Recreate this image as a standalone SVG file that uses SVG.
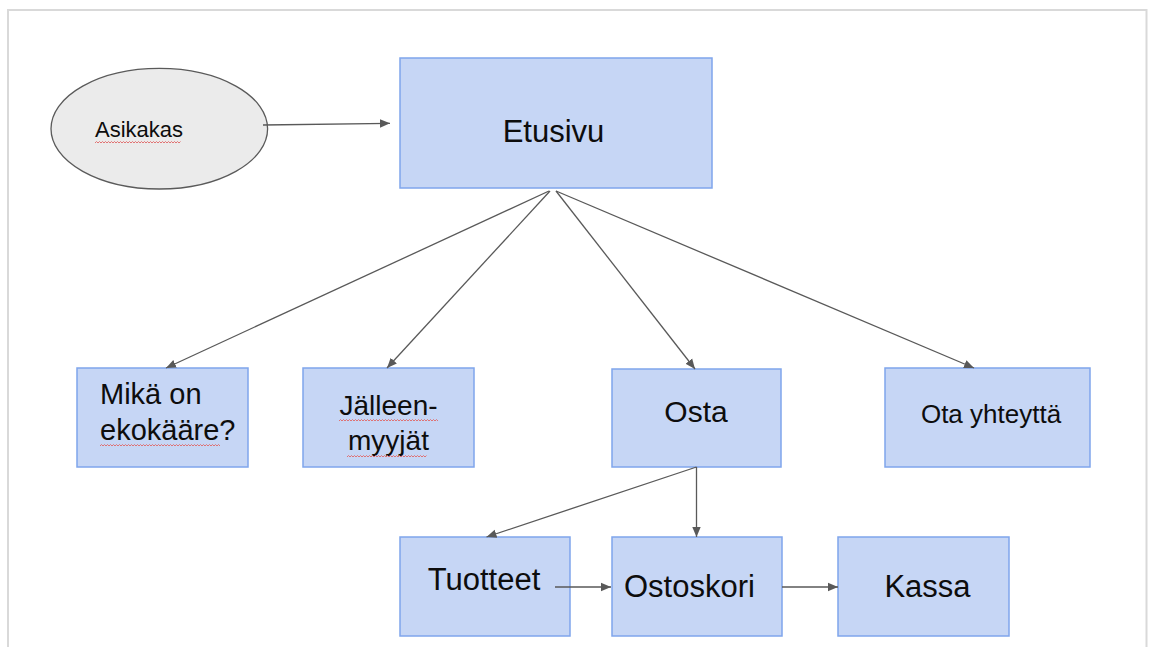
<svg xmlns="http://www.w3.org/2000/svg" width="1149" height="647" viewBox="0 0 1149 647">
  <style>
    .box { fill: #c6d6f5; stroke: #7fa5ec; stroke-width: 1.5; }
    .ell { fill: #ebebeb; stroke: #5a5a5a; stroke-width: 1.3; }
    .lbl { font-family: "Liberation Sans", Arial, sans-serif; fill: #0d0d0d; }
    .edge { stroke: #595959; stroke-width: 1.3; fill: none; marker-end: url(#arrow); }
    .sq { stroke: #e06666; stroke-width: 0.9; fill: none; }
  </style>
  <defs>
    <marker id="arrow" viewBox="0 0 10 10" refX="10" refY="5" markerWidth="10" markerHeight="10" markerUnits="userSpaceOnUse" orient="auto">
      <path d="M0,0.8 L10,5 L0,9.2 Z" fill="#595959"/>
    </marker>
  </defs>
  <rect width="1149" height="647" fill="#ffffff"/>
  <path d="M8,650 V10 H1146.5 V650" fill="none" stroke="#d9d9d9" stroke-width="2"/>

  <g id="asikakas">
    <ellipse class="ell" cx="159.3" cy="128.7" rx="108.3" ry="60.3"/>
    <text class="lbl" x="95" y="136.7" font-size="22">Asikakas</text>
    <path class="sq" d="M95,143 l1.5,-1.5 l1.5,1.5 l1.5,-1.5 l1.5,1.5 l1.5,-1.5 l1.5,1.5 l1.5,-1.5 l1.5,1.5 l1.5,-1.5 l1.5,1.5 l1.5,-1.5 l1.5,1.5 l1.5,-1.5 l1.5,1.5 l1.5,-1.5 l1.5,1.5 l1.5,-1.5 l1.5,1.5 l1.5,-1.5 l1.5,1.5 l1.5,-1.5 l1.5,1.5 l1.5,-1.5 l1.5,1.5 l1.5,-1.5 l1.5,1.5 l1.5,-1.5 l1.5,1.5 l1.5,-1.5 l1.5,1.5 l1.5,-1.5 l1.5,1.5 l1.5,-1.5 l1.5,1.5 l1.5,-1.5 l1.5,1.5 l1.5,-1.5 l1.5,1.5 l1.5,-1.5 l1.5,1.5 l1.5,-1.5 l1.5,1.5 l1.5,-1.5 l1.5,1.5 l1.5,-1.5 l1.5,1.5 l1.5,-1.5 l1.5,1.5 l1.5,-1.5 l1.5,1.5 l1.5,-1.5 l1.5,1.5 l1.5,-1.5 l1.5,1.5 l1.5,-1.5 l1.5,1.5 l1.5,-1.5"/>
  </g>

  <g id="etusivu">
    <rect class="box" x="400" y="58" width="312" height="130"/>
    <text class="lbl" x="553.5" y="142" font-size="31" text-anchor="middle">Etusivu</text>
  </g>

  <g id="mika-on-ekokaare">
    <rect class="box" x="77" y="368" width="171" height="99"/>
    <text class="lbl" x="100" y="404" font-size="29">Mikä on</text>
    <text class="lbl" x="100" y="440" font-size="29">ekokääre?</text>
    <path class="sq" d="M100,446 l1.5,-1.5 l1.5,1.5 l1.5,-1.5 l1.5,1.5 l1.5,-1.5 l1.5,1.5 l1.5,-1.5 l1.5,1.5 l1.5,-1.5 l1.5,1.5 l1.5,-1.5 l1.5,1.5 l1.5,-1.5 l1.5,1.5 l1.5,-1.5 l1.5,1.5 l1.5,-1.5 l1.5,1.5 l1.5,-1.5 l1.5,1.5 l1.5,-1.5 l1.5,1.5 l1.5,-1.5 l1.5,1.5 l1.5,-1.5 l1.5,1.5 l1.5,-1.5 l1.5,1.5 l1.5,-1.5 l1.5,1.5 l1.5,-1.5 l1.5,1.5 l1.5,-1.5 l1.5,1.5 l1.5,-1.5 l1.5,1.5 l1.5,-1.5 l1.5,1.5 l1.5,-1.5 l1.5,1.5 l1.5,-1.5 l1.5,1.5 l1.5,-1.5 l1.5,1.5 l1.5,-1.5 l1.5,1.5 l1.5,-1.5 l1.5,1.5 l1.5,-1.5 l1.5,1.5 l1.5,-1.5 l1.5,1.5 l1.5,-1.5 l1.5,1.5 l1.5,-1.5 l1.5,1.5 l1.5,-1.5 l1.5,1.5 l1.5,-1.5 l1.5,1.5 l1.5,-1.5 l1.5,1.5 l1.5,-1.5 l1.5,1.5 l1.5,-1.5 l1.5,1.5 l1.5,-1.5 l1.5,1.5 l1.5,-1.5 l1.5,1.5 l1.5,-1.5 l1.5,1.5 l1.5,-1.5 l1.5,1.5 l1.5,-1.5 l1.5,1.5 l1.5,-1.5 l1.5,1.5 l1.5,-1.5 l1.5,1.5"/>
  </g>

  <g id="jalleenmyyjat">
    <rect class="box" x="303" y="368" width="171" height="99"/>
    <text class="lbl" x="388.5" y="415" font-size="28" text-anchor="middle">Jälleen-</text>
    <text class="lbl" x="388.5" y="450" font-size="28" text-anchor="middle">myyjät</text>
    <path class="sq" d="M339,421 l1.5,-1.5 l1.5,1.5 l1.5,-1.5 l1.5,1.5 l1.5,-1.5 l1.5,1.5 l1.5,-1.5 l1.5,1.5 l1.5,-1.5 l1.5,1.5 l1.5,-1.5 l1.5,1.5 l1.5,-1.5 l1.5,1.5 l1.5,-1.5 l1.5,1.5 l1.5,-1.5 l1.5,1.5 l1.5,-1.5 l1.5,1.5 l1.5,-1.5 l1.5,1.5 l1.5,-1.5 l1.5,1.5 l1.5,-1.5 l1.5,1.5 l1.5,-1.5 l1.5,1.5 l1.5,-1.5 l1.5,1.5 l1.5,-1.5 l1.5,1.5 l1.5,-1.5 l1.5,1.5 l1.5,-1.5 l1.5,1.5 l1.5,-1.5 l1.5,1.5 l1.5,-1.5 l1.5,1.5 l1.5,-1.5 l1.5,1.5 l1.5,-1.5 l1.5,1.5 l1.5,-1.5 l1.5,1.5 l1.5,-1.5 l1.5,1.5 l1.5,-1.5 l1.5,1.5 l1.5,-1.5 l1.5,1.5 l1.5,-1.5 l1.5,1.5 l1.5,-1.5 l1.5,1.5 l1.5,-1.5 l1.5,1.5 l1.5,-1.5 l1.5,1.5 l1.5,-1.5 l1.5,1.5 l1.5,-1.5 l1.5,1.5 l1.5,-1.5 l1.5,1.5"/>
    <path class="sq" d="M347,457 l1.5,-1.5 l1.5,1.5 l1.5,-1.5 l1.5,1.5 l1.5,-1.5 l1.5,1.5 l1.5,-1.5 l1.5,1.5 l1.5,-1.5 l1.5,1.5 l1.5,-1.5 l1.5,1.5 l1.5,-1.5 l1.5,1.5 l1.5,-1.5 l1.5,1.5 l1.5,-1.5 l1.5,1.5 l1.5,-1.5 l1.5,1.5 l1.5,-1.5 l1.5,1.5 l1.5,-1.5 l1.5,1.5 l1.5,-1.5 l1.5,1.5 l1.5,-1.5 l1.5,1.5 l1.5,-1.5 l1.5,1.5 l1.5,-1.5 l1.5,1.5 l1.5,-1.5 l1.5,1.5 l1.5,-1.5 l1.5,1.5 l1.5,-1.5 l1.5,1.5 l1.5,-1.5 l1.5,1.5 l1.5,-1.5 l1.5,1.5 l1.5,-1.5 l1.5,1.5 l1.5,-1.5 l1.5,1.5 l1.5,-1.5 l1.5,1.5 l1.5,-1.5 l1.5,1.5 l1.5,-1.5 l1.5,1.5 l1.5,-1.5"/>
  </g>

  <g id="osta">
    <rect class="box" x="612" y="369" width="169" height="98"/>
    <text class="lbl" x="696" y="421.5" font-size="30" text-anchor="middle">Osta</text>
  </g>

  <g id="ota-yhteytta">
    <rect class="box" x="885" y="368" width="205" height="99"/>
    <text class="lbl" x="991" y="422.5" font-size="26" text-anchor="middle">Ota yhteyttä</text>
  </g>

  <g id="tuotteet">
    <rect class="box" x="400" y="537" width="170" height="99"/>
    <text class="lbl" x="484" y="590" font-size="31" text-anchor="middle">Tuotteet</text>
  </g>

  <g id="ostoskori">
    <rect class="box" x="612" y="537" width="170" height="99"/>
    <text class="lbl" x="624" y="597" font-size="31">Ostoskori</text>
  </g>

  <g id="kassa">
    <rect class="box" x="838" y="537" width="171" height="99"/>
    <text class="lbl" x="927.5" y="597" font-size="31" text-anchor="middle">Kassa</text>
  </g>

  <g id="connectors">
    <line class="edge" x1="263" y1="125" x2="390" y2="123.3"/>
    <line class="edge" x1="549" y1="191" x2="166" y2="368"/>
    <line class="edge" x1="550" y1="191" x2="387" y2="368"/>
    <line class="edge" x1="556" y1="191" x2="695" y2="369"/>
    <line class="edge" x1="556" y1="191" x2="974" y2="368"/>
    <line class="edge" x1="696.5" y1="467" x2="486.5" y2="537"/>
    <line class="edge" x1="696.5" y1="467" x2="696.5" y2="537"/>
    <line class="edge" x1="555" y1="587" x2="611" y2="587"/>
    <line class="edge" x1="782" y1="587" x2="838" y2="587"/>
  </g>
</svg>
